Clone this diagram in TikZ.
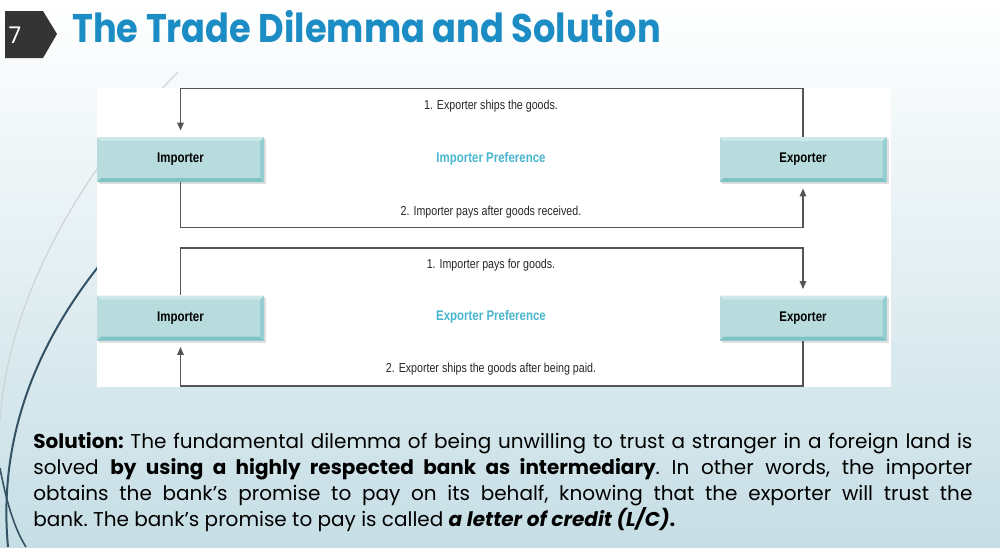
\documentclass[tikz,border=0pt]{standalone}
\usepackage{fontspec}
\setmainfont{Poppins}
\newfontfamily\headfont[FakeStretch=0.88]{Poppins}
\newfontfamily\narrowfont[FakeStretch=0.82]{Liberation Sans}
\usepackage{tikz}
\usetikzlibrary{arrows.meta,calc,shadows}
\definecolor{titleblue}{RGB}{27,141,196}
\definecolor{prefblue}{RGB}{72,182,208}
\definecolor{boxteal}{RGB}{184,220,222}
\definecolor{boxdark}{RGB}{126,195,197}
\definecolor{boxside}{RGB}{148,206,208}
\definecolor{boxlight}{RGB}{204,232,233}
\definecolor{tabgray}{RGB}{52,52,52}
\definecolor{flowgray}{RGB}{85,85,85}
\definecolor{bgblue}{RGB}{198,222,229}
\definecolor{wispgray}{RGB}{205,212,216}
\definecolor{wispdark}{RGB}{52,82,100}
\tikzset{
  flowline/.style = {flowgray, line width=0.8pt},
  flowarr/.style  = {flowline, -{Triangle[length=4pt,width=3.2pt]}, shorten >=3pt},
  actor/.style    = {fill=boxteal, minimum width=83.5pt, minimum height=22.5pt,
                     inner sep=0pt, font=\narrowfont\bfseries\fontsize{7}{8}\selectfont,
                     drop shadow={shadow xshift=1.2pt, shadow yshift=-1.2pt, opacity=0.25},
                     path picture={
                       \fill[boxdark] (path picture bounding box.south west)
                         -- (path picture bounding box.south east)
                         -- ([shift={(-2pt,2pt)}]path picture bounding box.south east)
                         -- ([shift={(2pt,2pt)}]path picture bounding box.south west) -- cycle;
                       \fill[boxside] (path picture bounding box.south east)
                         -- (path picture bounding box.north east)
                         -- ([shift={(-2pt,-2pt)}]path picture bounding box.north east)
                         -- ([shift={(-2pt,2pt)}]path picture bounding box.south east) -- cycle;
                       \fill[boxlight] (path picture bounding box.north west)
                         -- (path picture bounding box.north east)
                         -- ([shift={(-2pt,-2pt)}]path picture bounding box.north east)
                         -- ([shift={(2pt,-2pt)}]path picture bounding box.north west) -- cycle;
                     }},
  steplabel/.style = {font=\narrowfont\fontsize{6.5}{8}\selectfont, text=black!85},
  preflabel/.style = {font=\narrowfont\bfseries\fontsize{7}{8}\selectfont, text=prefblue}
}

\begin{document}
\begin{tikzpicture}[x=0.5pt, y=-0.5pt]
  % --- slide background and the wisps on the left -------------------------
  \shade[top color=white, bottom color=bgblue] (0,0) rectangle (1000,547);
  \useasboundingbox (0,0) rectangle (1000,547);
  \draw[wispgray, line width=0.6pt] (178,72) .. controls (80,170) and (8,300) .. (0,420);
  \draw[wispdark, line width=1pt] (102,262) .. controls (35,345) and (-2,440) .. (8,547);
  \draw[wispdark, line width=0.8pt] (0,468) .. controls (6,500) and (14,528) .. (26,547);

  % --- slide number tab and heading ---------------------------------------
  \fill[tabgray] (5,11) -- (43,11) -- (57,34) -- (43,58) -- (5,58) -- cycle;
  \node[text=white, font=\fontsize{11.5}{12}\selectfont] (slideno) at (15,35) {7};
  \node[anchor=base west, inner sep=0pt, text=titleblue,
        font=\headfont\bfseries\fontsize{20}{24}\selectfont] (title) at (72,42)
        {The Trade Dilemma and Solution};

  % --- white panel with the two preference loops --------------------------
  \fill[white] (97,88) rectangle (891,387);
  \node[actor] (imp1) at (180.5,159.5) {Importer};
  \node[actor] (exp1) at (803,159.5)   {Exporter};
  \node[actor] (imp2) at (180.5,318)   {Importer};
  \node[actor] (exp2) at (803,318)     {Exporter};
  \node[preflabel] (pref1) at (491,159) {Importer Preference};
  \node[preflabel] (pref2) at (491,317) {Exporter Preference};

  % importer preference: goods first, payment afterwards
  \draw[flowarr] (exp1.north) -- ++(0,-48) -| (imp1.north);
  \draw[flowarr] (imp1.south) -- ++(0,45) -| (exp1.south);
  \node[steplabel] (ship1) at (491,106) {1. Exporter ships the goods.};
  \node[steplabel] (pay1)  at (491,212) {2. Importer pays after goods received.};

  % exporter preference: payment first, goods afterwards
  \draw[flowarr] (imp2.north) -- ++(0,-47) -| (exp2.north);
  \draw[flowarr] (exp2.south) -- ++(0,45) -| (imp2.south);
  \node[steplabel] (pay2)  at (491,265) {1. Importer pays for goods.};
  \node[steplabel] (ship2) at (491,369) {2. Exporter ships the goods after being paid.};

  % --- the solution paragraph ---------------------------------------------
  \node[anchor=north west, inner sep=0pt, text width=469.5pt, align=justify,
        font=\fontsize{10}{13}\selectfont\frenchspacing] (solution) at (33,432)
  {\textbf{Solution:} The fundamental dilemma of being unwilling to trust a stranger in a foreign land is\linebreak
   solved \textbf{by using a highly respected bank as intermediary}. In other words, the importer\linebreak
   obtains the bank's promise to pay on its behalf, knowing that the exporter will trust the\linebreak
   bank. The bank's promise to pay is called \textbf{\textit{a letter of credit (L/C)}.}};
\end{tikzpicture}
\end{document}
